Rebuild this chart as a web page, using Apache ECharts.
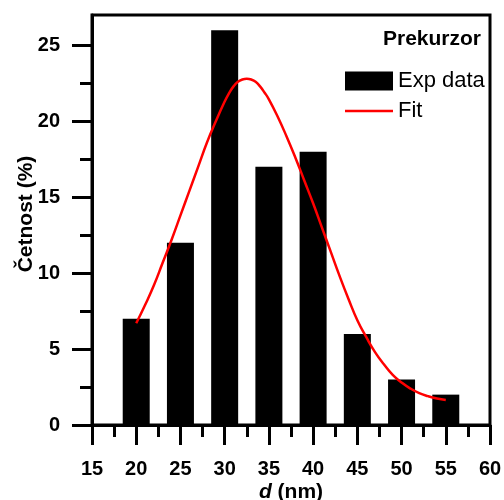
<!DOCTYPE html>
<html>
<head>
<meta charset="utf-8">
<script src="https://cdn.jsdelivr.net/npm/echarts@6/dist/echarts.min.js"></script>
<style>
  html, body { margin: 0; padding: 0; background: #fff; }
  #container { width: 504px; height: 500px; }
</style>
</head>
<body>
<div id="container"></div>
<script>
const container = document.getElementById('container');
const chartIns = echarts.init(container, undefined, { renderer: 'canvas' });

// histogram bins (nm) and frequency (%)
const binCenters = [20, 25, 30, 35, 40, 45, 50, 55];
const counts = [7, 12, 26, 17, 18, 6, 3, 2];

// fit curve (denser around the peak)
const fitX = [20, 21, 22, 23, 24, 25, 26, 27, 28, 29, 30, 30.5, 31, 31.5, 32, 32.5, 33, 33.5, 34,
  34.5, 35, 36, 37, 38, 39, 40, 41, 42, 43, 44, 45, 46, 47, 48, 49, 50, 51, 52, 53, 54, 55];
const fitY = [6.7, 7.9, 9.2, 10.7, 12.2, 13.8, 15.4, 17.0, 18.6, 20.0, 21.3, 21.85, 22.3, 22.6,
  22.75, 22.8, 22.75, 22.6, 22.3, 21.9, 21.45, 20.3, 19.0, 17.6, 16.1, 14.6, 13.0, 11.4, 9.8,
  8.3, 6.9, 5.8, 4.8, 4.0, 3.3, 2.8, 2.4, 2.1, 1.9, 1.75, 1.65];

const yMajor = [0, 5, 10, 15, 20, 25];
const yMinor = [2.5, 7.5, 12.5, 17.5, 22.5];

const FONT = 'Liberation Sans, Arial, sans-serif';

const option = {
  animation: false,
  title: {
    text: 'Prekurzor',
    right: 23,
    top: 29,
    padding: 0,
    textStyle: { fontFamily: FONT, fontWeight: 'bold', fontSize: 21, color: '#000' }
  },
  legend: {
    orient: 'vertical',
    left: 345,
    top: 70,
    padding: 0,
    itemWidth: 48,
    itemHeight: 19,
    itemGap: 8,
    textStyle: { fontFamily: FONT, fontSize: 22, color: '#000' },
    data: [
      { name: 'Exp data', icon: 'rect' },
      { name: 'Fit', icon: 'path://M0,0 L48,0 L48,2.5 L0,2.5 Z', itemStyle: { color: '#ff0000' } }
    ]
  },
  grid: {
    left: 92, right: 14, top: 15, bottom: 75,
    containLabel: false,
    outerBoundsMode: 'none',
    show: true,
    borderColor: '#000',
    borderWidth: 3
  },
  xAxis: {
    type: 'value',
    min: 15, max: 60, interval: 5,
    name: '{i|d} (nm)',
    nameLocation: 'middle',
    nameGap: 57,
    nameMoveOverlap: false,
    nameTextStyle: {
      fontFamily: FONT, fontWeight: 'bold', fontSize: 21, color: '#000',
      rich: { i: { fontFamily: FONT, fontStyle: 'italic', fontWeight: 'bold', fontSize: 21, color: '#000' } }
    },
    axisLine: { lineStyle: { color: '#000', width: 3 } },
    axisTick: { length: 20, lineStyle: { color: '#000', width: 3 } },
    minorTick: { show: true, splitNumber: 2, length: 12, lineStyle: { color: '#000', width: 3 } },
    splitLine: { show: false },
    axisLabel: { margin: 34, fontFamily: FONT, fontWeight: 'bold', fontSize: 20, color: '#000' }
  },
  yAxis: [{
    type: 'value',
    min: 0, max: 27,
    name: 'Četnost (%)',
    nameLocation: 'middle',
    nameGap: 55,
    nameMoveOverlap: false,
    nameTextStyle: { fontFamily: FONT, fontWeight: 'bold', fontSize: 21, color: '#000', padding: [0, 0, 0, 12] },
    axisLine: { lineStyle: { color: '#000', width: 3 } },
    axisTick: { length: 20, customValues: yMajor, lineStyle: { color: '#000', width: 3 } },
    splitLine: { show: false },
    axisLabel: { customValues: yMajor, margin: 32, fontFamily: FONT, fontWeight: 'bold', fontSize: 20, color: '#000' }
  }, {
    type: 'value',
    min: 0, max: 27,
    position: 'left',
    axisLine: { show: false },
    axisTick: { length: 12, customValues: yMinor, lineStyle: { color: '#000', width: 3 } },
    splitLine: { show: false },
    axisLabel: { show: false }
  }],
  series: [{
    name: 'Exp data',
    type: 'bar',
    barWidth: 27,
    itemStyle: { color: '#000' },
    data: binCenters.map((x, i) => [x, counts[i]])
  }, {
    name: 'Fit',
    type: 'line',
    smooth: true,
    symbol: 'none',
    lineStyle: { color: '#ff0000', width: 2.5 },
    itemStyle: { color: '#ff0000' },
    data: fitX.map((x, i) => [x, fitY[i]])
  }]
};

chartIns.setOption(option);
</script>
</body>
</html>
